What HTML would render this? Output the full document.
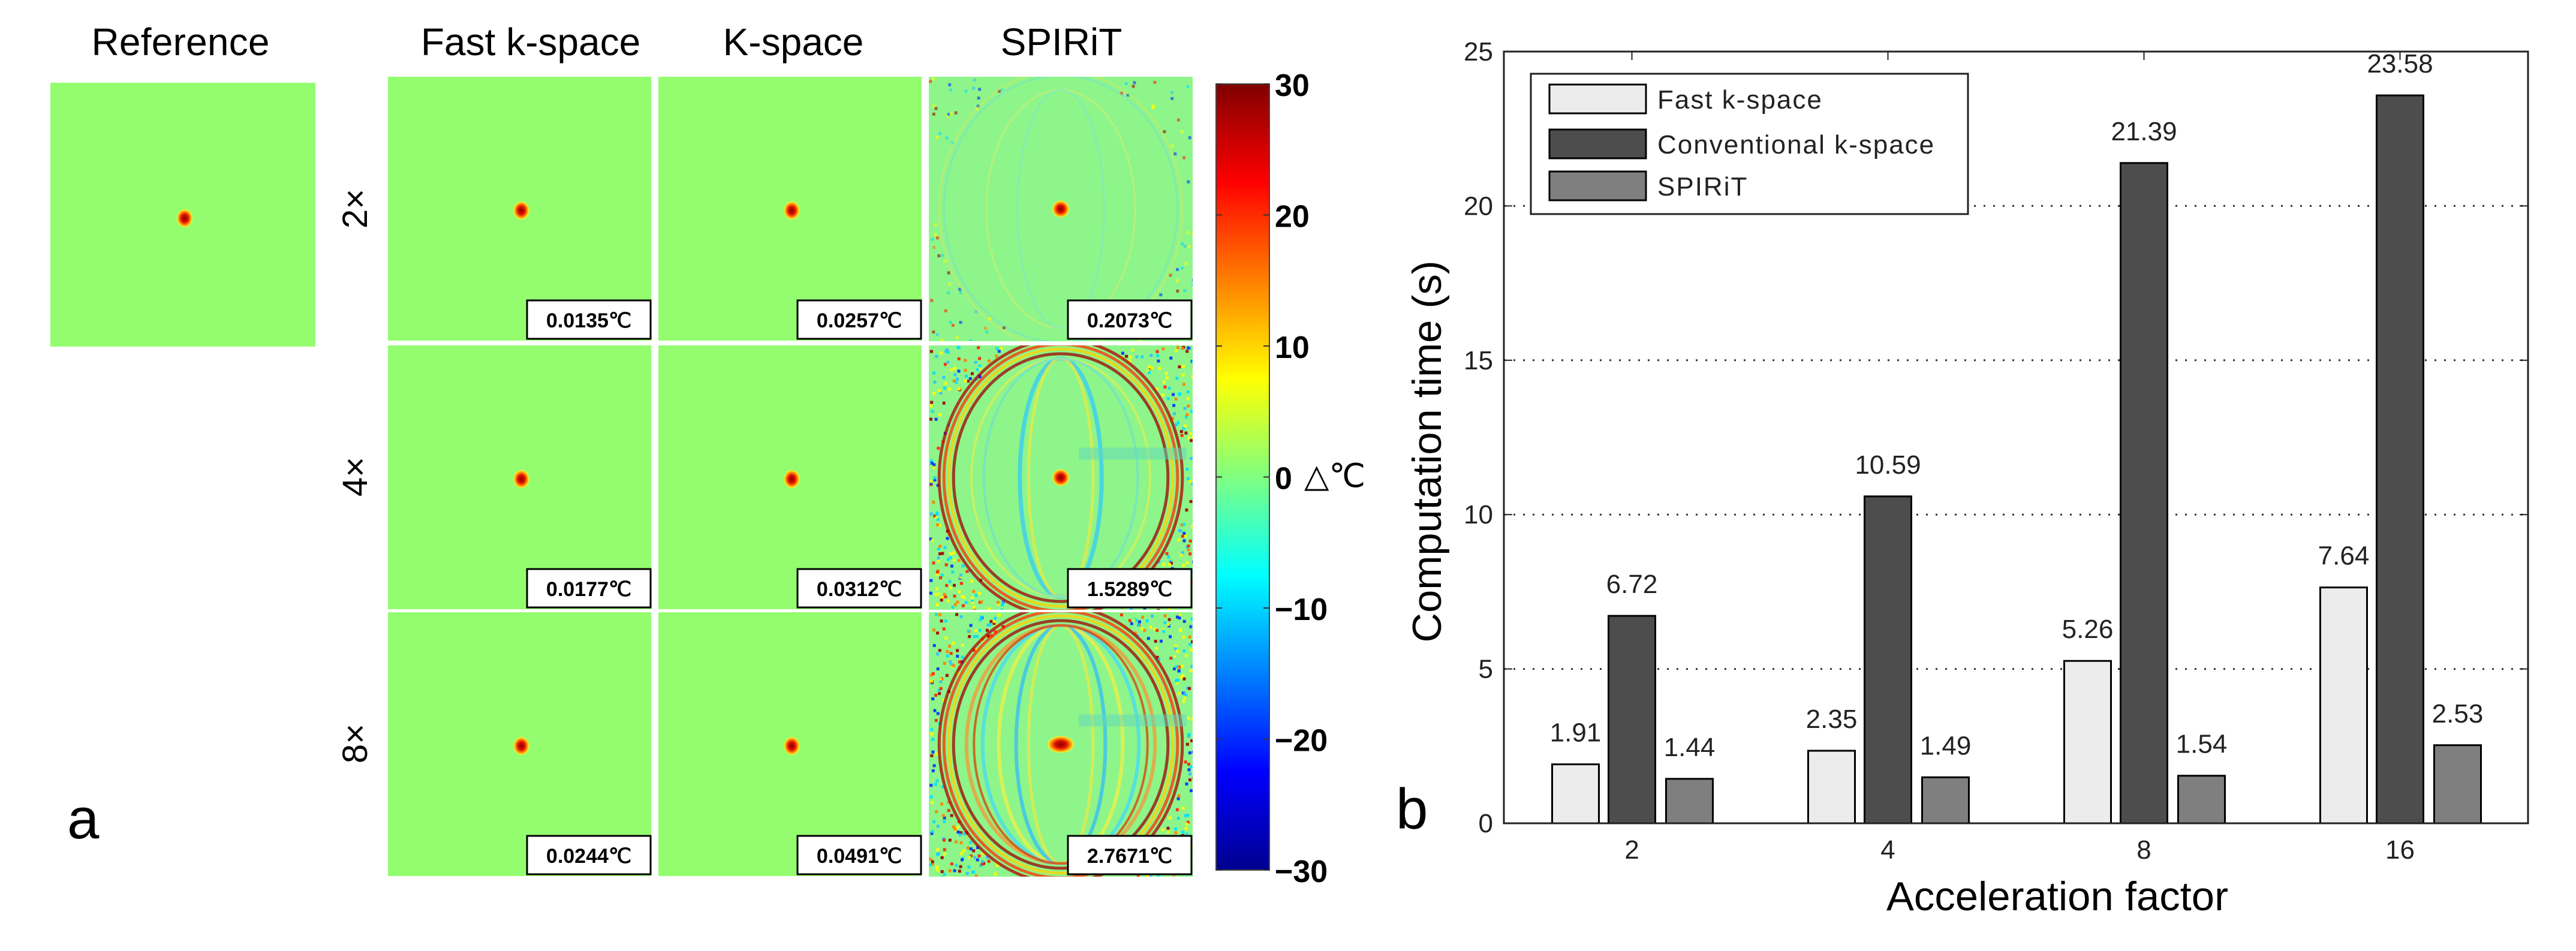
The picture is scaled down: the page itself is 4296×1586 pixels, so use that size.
<!DOCTYPE html>
<html><head><meta charset="utf-8"><style>
html,body{margin:0;padding:0;background:#fff;}
svg{display:block;}
.cal{font-family:"Liberation Sans",sans-serif;}
.mat{font-family:"Liberation Sans",sans-serif;fill:#222;}
</style></head><body>
<svg id="fig" width="4296" height="1586" viewBox="0 0 4296 1586" xmlns="http://www.w3.org/2000/svg">
<defs>
<linearGradient id="jet" x1="0" y1="1" x2="0" y2="0">
<stop offset="0" stop-color="#00008f"/><stop offset="0.125" stop-color="#0000ff"/><stop offset="0.375" stop-color="#00ffff"/><stop offset="0.5" stop-color="#80ff80"/><stop offset="0.625" stop-color="#ffff00"/><stop offset="0.875" stop-color="#ff0000"/><stop offset="1" stop-color="#800000"/>
</linearGradient>
<radialGradient id="hot"><stop offset="0" stop-color="#8a0000"/><stop offset="0.45" stop-color="#e01000"/><stop offset="0.75" stop-color="#ff9000"/><stop offset="1" stop-color="#f0ff40"/></radialGradient>
</defs>
<g id="panelA"></g>
<g id="panelB"></g>
</svg>
<script>
const NS="http://www.w3.org/2000/svg";
function mk(tag,attrs,parent,txt){const e=document.createElementNS(NS,tag);for(const k in attrs)e.setAttribute(k,attrs[k]);if(txt!==undefined)e.textContent=txt;parent.appendChild(e);return e;}

// ---------- Panel a ----------
const A=document.getElementById('panelA');
const colNames=["Fast k-space","K-space","SPIRiT"];
const rowNames=["2×","4×","8×"];
const errFast=["0.0135℃","0.0177℃","0.0244℃"];
const errK=["0.0257℃","0.0312℃","0.0491℃"];
const errSp=["0.2073℃","1.5289℃","2.7671℃"];
const colX=[647,1098,1549], colW=441;
const rowY=[128,576,1021], rowH=442;

let t;
t=mk('text',{x:301,y:92,'text-anchor':'middle','font-size':64,class:'cal',textLength:297},A,"Reference");

let r=mk('rect',{x:84,y:138,width:442,height:440,fill:'#94fd6f'},A);

mk('ellipse',{cx:308,cy:364,rx:13,ry:15,fill:'url(#hot)'},A);

const titleX=[885,1323,1770];
colNames.forEach((n,i)=>{
  const e=mk('text',{x:titleX[i],y:92,'text-anchor':'middle','font-size':64,class:'cal'},A,n);
  
  
});
const rowCY=[348,795,1240];
rowNames.forEach((n,i)=>{
  const e=mk('text',{x:0,y:0,'text-anchor':'middle','font-size':58,class:'cal',transform:`translate(612,${rowCY[i]}) rotate(-90)`},A,n);
  
  
});

let seed=12345;function rnd(){seed=(seed*1103515245+12345)%2147483648;return seed/2147483648;}
const spColors=["#ff2000","#a00000","#0030ff","#00e0ff","#ffff00","#ff8000","#30c0ff","#ffff00","#00e0ff"];

function spirit(g,x0,y0,w,h,lvl){
  const cid='clip'+x0+'_'+y0;
  const cp=mk('clipPath',{id:cid},g);mk('rect',{x:x0,y:y0,width:w,height:h},cp);
  const gg=mk('g',{'clip-path':`url(#${cid})`},g);
  mk('rect',{x:x0,y:y0,width:w,height:h,fill:'#8ef58a'},gg);
  const cx=x0+w/2, cy=y0+h/2, Rx=w*0.47, Ry=h*0.5;
  // corner speckle
  const n=[450,1100,1300][lvl];
  for(let i=0;i<n;i++){
    const px=x0+rnd()*w, py=y0+rnd()*h;
    const d=Math.hypot((px-cx)/Rx,(py-cy)/Ry);
    if(d<1.0)continue;
    if(Math.abs(px-cx)<w*0.22)continue;
    mk('rect',{x:px,y:py,width:5,height:5,fill:spColors[Math.floor(rnd()*spColors.length)],opacity:lvl?0.9:0.6},gg);
  }
  // rings
  const ringC=lvl===0?["#d8e860","#70e0d0"]:["#b00000","#ff3000","#ffd000","#a00000"];
  ringC.forEach((c,k)=>{
    mk('ellipse',{cx:cx,cy:cy,rx:Rx-4-k*8,ry:Ry+10-k*8,fill:'none',stroke:c,'stroke-width':lvl?5:3,opacity:lvl?0.75:0.5},gg);
  });
  // inner arcs
  const arcs=lvl===0?[[0.6,"#c8f070",3],[0.35,"#80e8c0",3]]:
    lvl===1?[[0.33,"#30c8ff",7],[0.26,"#f0e840",5],[0.72,"#e0f050",4],[0.62,"#70e0d0",4]]:
    [[0.76,"#ff9030",6],[0.63,"#40d8ff",6],[0.5,"#f8f040",6],[0.36,"#30b8ff",6],[0.26,"#f0e840",5],[0.7,"#e03000",4]];
  arcs.forEach(a=>{
    mk('ellipse',{cx:cx,cy:cy,rx:Rx*a[0],ry:Ry*0.9,fill:'none',stroke:a[1],'stroke-width':a[2],opacity:0.7},gg);
  });
  if(lvl>0){
    mk('rect',{x:cx+30,y:cy-50,width:w/2-40,height:20,fill:'#60d8c0',opacity:0.5},gg);
  }
  mk('ellipse',{cx:cx,cy:cy,rx:lvl===2?22:14,ry:14,fill:'url(#hot)'},gg);
}

for(let ri=0;ri<3;ri++){
  for(let ci=0;ci<3;ci++){
    const x0=colX[ci], y0=rowY[ri];
    const g=mk('g',{},A);
    
    
    if(ci<2){
      mk('rect',{x:x0,y:y0,width:colW-2,height:rowH-2,fill:'#94fd6f'},g);
      mk('ellipse',{cx:x0+colW/2+2,cy:y0+rowH/2+2,rx:13,ry:15,fill:'url(#hot)'},g);
    } else spirit(g,x0,y0,colW-1,rowH-1,ri);
    const txt=[errFast,errK,errSp][ci][ri];
    const bx=x0+colW-209, by=y0+rowH-69;
    const b=mk('g',{},g);
    
    
    mk('rect',{x:bx,y:by,width:206,height:64,fill:'#fff',stroke:'#000','stroke-width':3},b);
    mk('text',{x:bx+103,y:by+45,'text-anchor':'middle','font-size':34,'font-weight':'bold',class:'cal'},b,txt);
  }
}
// colorbar
const cb=mk('g',{},A);


mk('rect',{x:2028,y:140,width:89,height:1311,fill:'url(#jet)',stroke:'#444','stroke-width':2},cb);
const cbTicks=[30,20,10,0,-10,-20,-30];
cbTicks.forEach(v=>{
  const y=140+(30-v)/60*1311;
  mk('line',{x1:2028,x2:2038,y1:y,y2:y,stroke:'#333','stroke-width':2},cb);
  mk('line',{x1:2107,x2:2117,y1:y,y2:y,stroke:'#333','stroke-width':2},cb);
  mk('text',{x:2126,y:y+20,'font-size':52,'font-weight':'bold',class:'cal'},cb,String(v).replace('-','−'));
});
mk('text',{x:2175,y:812,'font-size':54,class:'cal'},cb,"△℃");
t=mk('text',{x:112,y:1398,'font-size':96,class:'cal'},A,"a");


// ---------- Panel b chart ----------
const categories=["2","4","8","16"];
const seriesNames=["Fast k-space","Conventional k-space","SPIRiT"];
const fastVals=[1.91,2.35,5.26,7.64];
const convVals=[6.72,10.59,21.39,23.58];
const spiritVals=[1.44,1.49,1.54,2.53];
const yTicks=[0,5,10,15,20,25];
const seriesFill=["#ececec","#4d4d4d","#7f7f7f"];

const B=document.getElementById('panelB');
const L=2508, R=4216, T=86, Bt=1373, yMax=25;
const yS=v=>Bt-(v/yMax)*(Bt-T);
const xS=i=>L+(R-L)*(i+0.5)/categories.length;

yTicks.forEach(v=>{
  const y=yS(v);
  if(v>0&&v<yMax){const gl=mk('line',{x1:L,x2:R,y1:y,y2:y,stroke:'#333','stroke-width':3,'stroke-dasharray':'3 13'},B);
    }
  mk('line',{x1:L,x2:L+14,y1:y,y2:y,stroke:'#222','stroke-width':2},B);
  mk('line',{x1:R-14,x2:R,y1:y,y2:y,stroke:'#222','stroke-width':2},B);
  const tl=mk('text',{x:L-18,y:y+15,'text-anchor':'end','font-size':44,class:'mat',fill:'#333'},B,String(v));
  
});
const allVals=[fastVals,convVals,spiritVals];
const offs=[-94,0,96], bw=78;
categories.forEach((c,i)=>{
  const cx=xS(i);
  mk('line',{x1:cx,x2:cx,y1:Bt,y2:Bt-14,stroke:'#222','stroke-width':2},B);
  mk('line',{x1:cx,x2:cx,y1:T,y2:T+14,stroke:'#222','stroke-width':2},B);
  const xl=mk('text',{x:cx,y:1432,'text-anchor':'middle','font-size':44,class:'mat',fill:'#333'},B,c);
  
  allVals.forEach((arr,s)=>{
    const v=arr[i], x=cx+offs[s]-bw/2, y=yS(v);
    const bar=mk('rect',{x:x,y:y,width:bw,height:Bt-y,fill:seriesFill[s],stroke:'#000','stroke-width':3},B);
    
    
    const lab=mk('text',{x:cx+offs[s],y:y-38,'text-anchor':'middle','font-size':44,class:'mat',fill:'#222'},B,v.toFixed(2));
    
    
  });
});
const ax=mk('rect',{x:L,y:T,width:R-L,height:Bt-T,fill:'none',stroke:'#222','stroke-width':3},B);


// legend
const lg=mk('g',{},B);


mk('rect',{x:2553,y:123,width:729,height:234,fill:'#fff',stroke:'#222','stroke-width':3},lg);
const legY=[165,240,310];
seriesNames.forEach((n,s)=>{
  const e=mk('g',{},lg);
  
  
  mk('rect',{x:2584,y:legY[s]-24,width:161,height:48,fill:seriesFill[s],stroke:'#000','stroke-width':3},e);
  mk('text',{x:2764,y:legY[s]+16,'font-size':44,class:'mat',fill:'#222','letter-spacing':2},e,n);
});

t=mk('text',{x:0,y:0,'text-anchor':'middle','font-size':68,class:'cal',textLength:637,lengthAdjust:'spacingAndGlyphs',transform:'translate(2403,753) rotate(-90)'},B,"Computation time (s)");

t=mk('text',{x:3431,y:1518,'text-anchor':'middle','font-size':68,class:'cal',textLength:570,lengthAdjust:'spacingAndGlyphs'},B,"Acceleration factor");

t=mk('text',{x:2328,y:1382,'font-size':96,class:'cal'},B,"b");

</script>
</body></html>
